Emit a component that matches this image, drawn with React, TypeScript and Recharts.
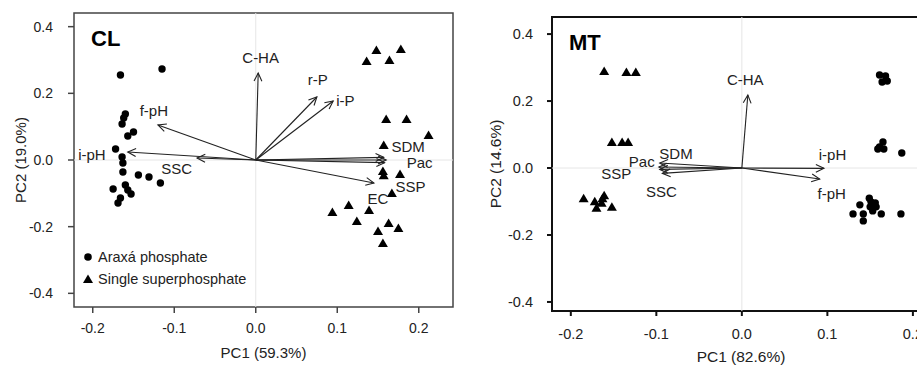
import React from "react";
import {
  ScatterChart,
  Scatter,
  XAxis,
  YAxis,
  ReferenceLine,
  ReferenceArea,
  Label,
} from "recharts";

const FONT = '"Liberation Sans", Arial, Helvetica, sans-serif';
const TICKS = [-0.2, -0.1, 0, 0.1, 0.2];
const Y_TICKS = [-0.4, -0.2, 0, 0.2, 0.4];

// CL panel
const clAraxa = [
  { x: -0.166, y: 0.255 }, { x: -0.115, y: 0.273 }, { x: -0.16, y: 0.138 },
  { x: -0.162, y: 0.126 }, { x: -0.164, y: 0.108 }, { x: -0.157, y: 0.072 },
  { x: -0.15, y: 0.084 }, { x: -0.172, y: 0.033 }, { x: -0.164, y: 0.009 },
  { x: -0.163, y: -0.009 }, { x: -0.163, y: -0.036 }, { x: -0.144, y: -0.045 },
  { x: -0.131, y: -0.051 }, { x: -0.117, y: -0.069 }, { x: -0.175, y: -0.087 },
  { x: -0.16, y: -0.075 }, { x: -0.153, y: -0.102 }, { x: -0.166, y: -0.114 },
  { x: -0.169, y: -0.129 }, { x: -0.157, y: -0.09 },
];
const clSingle = [
  { x: 0.148, y: 0.33 }, { x: 0.178, y: 0.333 }, { x: 0.136, y: 0.297 },
  { x: 0.164, y: 0.3 }, { x: 0.16, y: 0.123 }, { x: 0.185, y: 0.123 },
  { x: 0.212, y: 0.075 }, { x: 0.157, y: 0.045 }, { x: 0.156, y: -0.033 },
  { x: 0.157, y: -0.046 }, { x: 0.177, y: -0.042 }, { x: 0.167, y: -0.099 },
  { x: 0.094, y: -0.156 }, { x: 0.114, y: -0.135 }, { x: 0.139, y: -0.15 },
  { x: 0.124, y: -0.183 }, { x: 0.15, y: -0.213 }, { x: 0.163, y: -0.189 },
  { x: 0.175, y: -0.204 }, { x: 0.156, y: -0.249 },
];
const clVectors = [
  { name: "C-HA", x: 0.003, y: 0.261 },
  { name: "r-P", x: 0.075, y: 0.189 },
  { name: "i-P", x: 0.095, y: 0.177 },
  { name: "SDM", x: 0.157, y: 0.008 },
  { name: "Pac", x: 0.16, y: 0.0 },
  { name: "SSP", x: 0.158, y: -0.008 },
  { name: "EC", x: 0.145, y: -0.069 },
  { name: "SSC", x: -0.072, y: 0.006 },
  { name: "i-pH", x: -0.157, y: 0.024 },
  { name: "f-pH", x: -0.12, y: 0.105 },
];
const clLabels = [
  { name: "C-HA", x: 0.006, y: 0.309 },
  { name: "r-P", x: 0.076, y: 0.243 },
  { name: "i-P", x: 0.11, y: 0.18 },
  { name: "SDM", x: 0.187, y: 0.042 },
  { name: "Pac", x: 0.201, y: -0.006 },
  { name: "SSP", x: 0.19, y: -0.078 },
  { name: "EC", x: 0.15, y: -0.114 },
  { name: "SSC", x: -0.097, y: -0.024 },
  { name: "i-pH", x: -0.201, y: 0.018 },
  { name: "f-pH", x: -0.125, y: 0.15 },
];

// MT panel
const mtAraxa = [
  { x: 0.161, y: 0.278 }, { x: 0.168, y: 0.275 }, { x: 0.164, y: 0.257 },
  { x: 0.17, y: 0.26 }, { x: 0.161, y: 0.063 }, { x: 0.165, y: 0.078 },
  { x: 0.166, y: 0.057 }, { x: 0.159, y: 0.057 }, { x: 0.187, y: 0.045 },
  { x: 0.149, y: -0.09 }, { x: 0.138, y: -0.11 }, { x: 0.156, y: -0.104 },
  { x: 0.15, y: -0.116 }, { x: 0.142, y: -0.137 }, { x: 0.13, y: -0.137 },
  { x: 0.142, y: -0.158 }, { x: 0.153, y: -0.128 }, { x: 0.163, y: -0.137 },
  { x: 0.186, y: -0.137 }, { x: 0.151, y: -0.101 }, { x: 0.157, y: -0.116 },
];
const mtSingle = [
  { x: -0.161, y: 0.29 }, { x: -0.135, y: 0.287 }, { x: -0.124, y: 0.287 },
  { x: -0.152, y: 0.078 }, { x: -0.14, y: 0.078 }, { x: -0.133, y: 0.078 },
  { x: -0.185, y: -0.09 }, { x: -0.172, y: -0.099 }, { x: -0.17, y: -0.119 },
  { x: -0.163, y: -0.09 }, { x: -0.161, y: -0.081 }, { x: -0.152, y: -0.116 },
  { x: -0.164, y: -0.104 },
];
const mtVectors = [
  { name: "C-HA", x: 0.007, y: 0.218 },
  { name: "i-pH", x: 0.096, y: -0.001 },
  { name: "f-pH", x: 0.091, y: -0.033 },
  { name: "SDM", x: -0.096, y: 0.015 },
  { name: "Pac", x: -0.097, y: 0.003 },
  { name: "SSP", x: -0.096, y: -0.004 },
  { name: "SSC", x: -0.093, y: -0.016 },
];
const mtLabels = [
  { name: "C-HA", x: 0.004, y: 0.263 },
  { name: "i-pH", x: 0.106, y: 0.039 },
  { name: "f-pH", x: 0.105, y: -0.075 },
  { name: "SDM", x: -0.077, y: 0.042 },
  { name: "Pac", x: -0.117, y: 0.018 },
  { name: "SSP", x: -0.147, y: -0.015 },
  { name: "SSC", x: -0.094, y: -0.069 },
];

const Dot = (p: any) => <circle cx={p.cx} cy={p.cy} r={3.7} fill="#000" />;
const Tri = (p: any) => (
  <polygon
    points={`${p.cx},${p.cy - 4.5} ${p.cx - 5},${p.cy + 4} ${p.cx + 5},${p.cy + 4}`}
    fill="#000"
  />
);

const Arrow = (props: any) => {
  const { x1, y1, x2, y2 } = props;
  if ([x1, y1, x2, y2].some((v) => typeof v !== "number" || isNaN(v))) return null;
  const a = Math.atan2(y2 - y1, x2 - x1);
  const len = 9;
  const spread = 0.45;
  const h1 = `${x2 - len * Math.cos(a - spread)},${y2 - len * Math.sin(a - spread)}`;
  const h2 = `${x2 - len * Math.cos(a + spread)},${y2 - len * Math.sin(a + spread)}`;
  return (
    <g>
      <line x1={x1} y1={y1} x2={x2} y2={y2} stroke="#222" strokeWidth={1.1} />
      <polyline points={`${h1} ${x2},${y2} ${h2}`} fill="none" stroke="#222" strokeWidth={1.1} />
    </g>
  );
};

const makeText = (size: number) => (p: any) => (
  <text
    x={p.cx}
    y={p.cy}
    textAnchor="middle"
    dominantBaseline="central"
    fontSize={size}
    fontFamily={FONT}
    fill="#222"
  >
    {p.payload.name}
  </text>
);

const LegendBox = () => (
  <div
    style={{
      position: "absolute",
      left: 82,
      top: 246,
      fontFamily: FONT,
      fontSize: 14.5,
      color: "#222",
      lineHeight: "22px",
      whiteSpace: "nowrap",
    }}
  >
    <div style={{ display: "flex", alignItems: "center" }}>
      <svg width={12} height={12} style={{ marginRight: 4 }}>
        <circle cx={6} cy={6} r={3.8} fill="#000" />
      </svg>
      Araxá phosphate
    </div>
    <div style={{ display: "flex", alignItems: "center" }}>
      <svg width={12} height={12} style={{ marginRight: 4 }}>
        <polygon points="6,1.5 1,10 11,10" fill="#000" />
      </svg>
      Single superphosphate
    </div>
  </div>
);

type PanelProps = {
  title: string;
  xTitle: string;
  yTitle: string;
  width: number;
  top: number;
  right: number;
  yAxisWidth: number;
  xAxisHeight: number;
  xDomain: [number, number];
  yDomain: [number, number];
  tickSize: number;
  xTickMargin: number;
  yTickMargin: number;
  fontSize: number;
  titleSize: number;
  labelSize: number;
  frameWidth: number;
  frameColor: string;
  yTitleX: number;
  xTitleOffset: number;
  araxa: { x: number; y: number }[];
  single: { x: number; y: number }[];
  vectors: { name: string; x: number; y: number }[];
  labels: { name: string; x: number; y: number }[];
};

const Panel = (p: PanelProps) => {
  const tick = { fill: "#222", fontSize: p.fontSize, fontFamily: FONT };
  return (
    <ScatterChart
      width={p.width}
      height={366}
      margin={{ top: p.top, right: p.right, bottom: 0, left: 0 }}
    >
      <XAxis
        type="number"
        dataKey="x"
        domain={p.xDomain}
        ticks={TICKS}
        allowDataOverflow
        tickFormatter={(v: number) => v.toFixed(1)}
        axisLine={false}
        tickLine={{ stroke: p.frameColor, strokeWidth: p.frameWidth }}
        tickSize={p.tickSize}
        tickMargin={p.xTickMargin}
        tick={tick}
        height={p.xAxisHeight}
      >
        <Label
          value={p.xTitle}
          position="insideBottom"
          offset={p.xTitleOffset}
          style={{ fontFamily: FONT, fontSize: p.titleSize, fill: "#222" }}
        />
      </XAxis>
      <YAxis
        type="number"
        dataKey="y"
        domain={p.yDomain}
        ticks={Y_TICKS}
        allowDataOverflow
        tickFormatter={(v: number) => v.toFixed(1)}
        axisLine={false}
        tickLine={{ stroke: p.frameColor, strokeWidth: p.frameWidth }}
        tickSize={p.tickSize}
        tickMargin={p.yTickMargin}
        tick={tick}
        width={p.yAxisWidth}
      >
        <Label
          content={(lp: any) => {
            const vb = lp.viewBox || {};
            const cx = (vb.x || 0) + p.yTitleX;
            const cy = (vb.y || 0) + (vb.height || 0) / 2;
            return (
              <text
                x={cx}
                y={cy}
                transform={`rotate(-90 ${cx} ${cy})`}
                textAnchor="middle"
                dominantBaseline="central"
                fontFamily={FONT}
                fontSize={p.titleSize}
                fill="#222"
              >
                {p.yTitle}
              </text>
            );
          }}
        />
      </YAxis>
      <ReferenceLine x={0} stroke="#e6e6e6" strokeWidth={1} />
      <ReferenceLine y={0} stroke="#e6e6e6" strokeWidth={1} />
      <ReferenceArea
        x1={p.xDomain[0]}
        x2={p.xDomain[1]}
        y1={p.yDomain[0]}
        y2={p.yDomain[1]}
        fill="none"
        fillOpacity={0}
        stroke={p.frameColor}
        strokeWidth={p.frameWidth}
        ifOverflow="visible"
      >
        <Label
          value={p.title}
          position="insideTopLeft"
          offset={17}
          style={{ fontFamily: FONT, fontSize: 22, fontWeight: "bold", fill: "#000" }}
        />
      </ReferenceArea>
      {p.vectors.map((v) => (
        <ReferenceLine
          key={v.name}
          segment={[{ x: 0, y: 0 }, { x: v.x, y: v.y }]}
          shape={Arrow}
          ifOverflow="visible"
        />
      ))}
      <Scatter data={p.araxa} shape={Dot} isAnimationActive={false} />
      <Scatter data={p.single} shape={Tri} isAnimationActive={false} />
      <Scatter data={p.labels} shape={makeText(p.labelSize)} isAnimationActive={false} />
    </ScatterChart>
  );
};

export default function App() {
  return (
    <div
      style={{
        position: "fixed",
        left: 0,
        top: 0,
        width: 917,
        height: 366,
        overflow: "hidden",
        background: "#fff",
      }}
    >
      <div style={{ position: "absolute", left: 0, top: 0 }}>
        <Panel
          title="CL"
          xTitle="PC1 (59.3%)"
          yTitle="PC2 (19.0%)"
          width={460}
          top={13}
          right={7}
          yAxisWidth={74}
          xAxisHeight={59}
          xDomain={[-0.223, 0.242]}
          yDomain={[-0.441, 0.441]}
          tickSize={6}
          xTickMargin={10}
          yTickMargin={15}
          fontSize={14}
          titleSize={15}
          labelSize={15}
          frameWidth={1.5}
          frameColor="#444"
          yTitleX={20}
          xTitleOffset={8}
          araxa={clAraxa}
          single={clSingle}
          vectors={clVectors}
          labels={clLabels}
        />
      </div>
      <LegendBox />
      <div style={{ position: "absolute", left: 460, top: 0 }}>
        <Panel
          title="MT"
          xTitle="PC1 (82.6%)"
          yTitle="PC2 (14.6%)"
          width={480}
          top={17}
          right={10}
          yAxisWidth={92}
          xAxisHeight={55}
          xDomain={[-0.222, 0.22]}
          yDomain={[-0.427, 0.451]}
          tickSize={5}
          xTickMargin={13}
          yTickMargin={14}
          fontSize={14.5}
          titleSize={15.5}
          labelSize={15}
          frameWidth={2}
          frameColor="#111"
          yTitleX={35}
          xTitleOffset={4}
          araxa={mtAraxa}
          single={mtSingle}
          vectors={mtVectors}
          labels={mtLabels}
        />
      </div>
    </div>
  );
}
